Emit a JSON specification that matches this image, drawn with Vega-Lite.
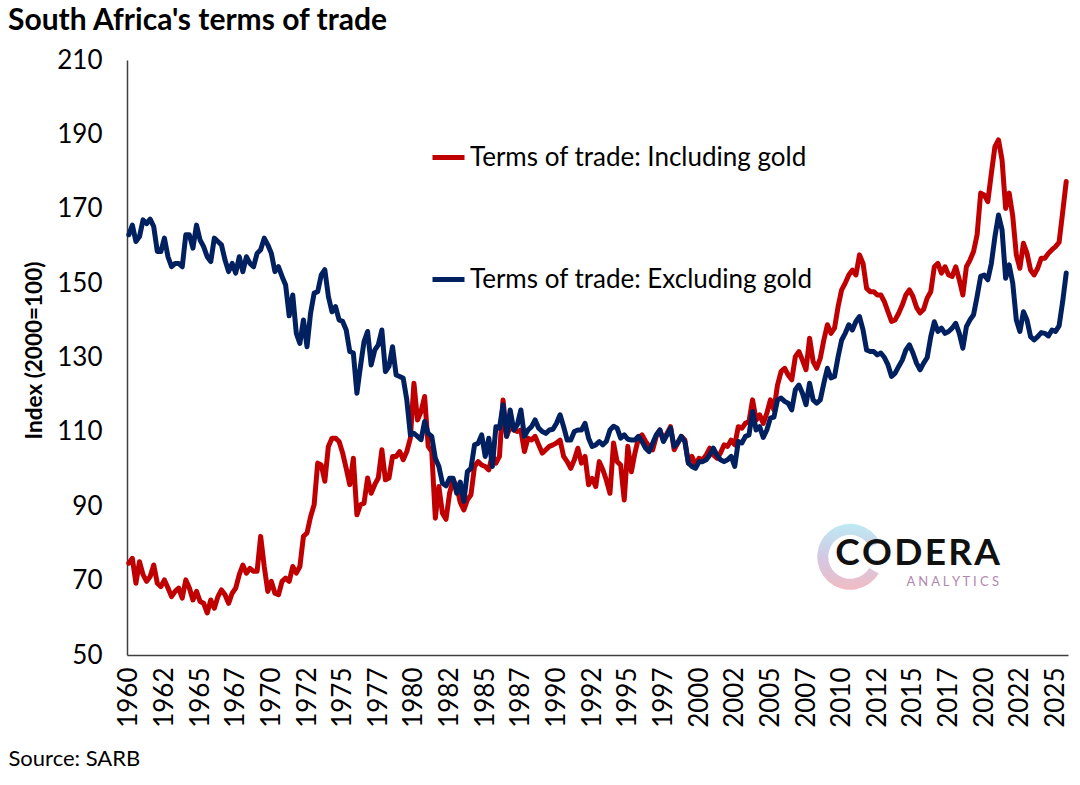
{
  "$schema": "https://vega.github.io/schema/vega-lite/v6.json",
  "width": 941,
  "height": 595,
  "autosize": {"type": "none"},
  "padding": {"left": 127, "top": 60, "right": 12, "bottom": 130},
  "background": "white",
  "config": {
    "view": {"stroke": null},
    "font": "Lato",
    "axis": {"grid": false, "labelColor": "#000000", "titleColor": "#000000", "labelFont": "Lato", "titleFont": "Lato"},
    "axisX": {"labelOverlap": false}
  },
  "title": {
    "text": "South Africa's terms of trade",
    "anchor": "start",
    "frame": "group",
    "dx": -119,
    "offset": 11,
    "font": "Lato",
    "fontSize": 30,
    "fontWeight": "bold",
    "color": "#000000"
  },
  "resolve": {"axis": {"x": "independent", "y": "independent"}},
  "layer": [
    {
      "data": {
        "values": [
          {"year": 1960, "incl": 74.7, "excl": 163.0},
          {"year": 1960.25, "incl": 76.0, "excl": 165.6},
          {"year": 1960.5, "incl": 69.3, "excl": 161.2},
          {"year": 1960.75, "incl": 75.1, "excl": 162.5},
          {"year": 1961, "incl": 71.6, "excl": 167.0},
          {"year": 1961.25, "incl": 69.8, "excl": 166.0},
          {"year": 1961.5, "incl": 71.1, "excl": 167.2},
          {"year": 1961.75, "incl": 74.2, "excl": 165.2},
          {"year": 1962, "incl": 69.3, "excl": 158.5},
          {"year": 1962.25, "incl": 68.4, "excl": 158.5},
          {"year": 1962.5, "incl": 70.2, "excl": 162.1},
          {"year": 1962.75, "incl": 68.0, "excl": 157.1},
          {"year": 1963, "incl": 65.7, "excl": 154.4},
          {"year": 1963.25, "incl": 67.1, "excl": 155.3},
          {"year": 1963.5, "incl": 68.0, "excl": 155.3},
          {"year": 1963.75, "incl": 65.3, "excl": 154.4},
          {"year": 1964, "incl": 70.2, "excl": 163.0},
          {"year": 1964.25, "incl": 68.0, "excl": 163.0},
          {"year": 1964.5, "incl": 64.8, "excl": 159.4},
          {"year": 1964.75, "incl": 67.1, "excl": 165.6},
          {"year": 1965, "incl": 64.4, "excl": 161.6},
          {"year": 1965.25, "incl": 63.9, "excl": 159.8},
          {"year": 1965.5, "incl": 61.3, "excl": 157.1},
          {"year": 1965.75, "incl": 64.8, "excl": 155.8},
          {"year": 1966, "incl": 62.6, "excl": 162.1},
          {"year": 1966.25, "incl": 65.7, "excl": 161.2},
          {"year": 1966.5, "incl": 67.5, "excl": 160.3},
          {"year": 1966.75, "incl": 66.2, "excl": 156.2},
          {"year": 1967, "incl": 63.9, "excl": 153.1},
          {"year": 1967.25, "incl": 66.6, "excl": 155.3},
          {"year": 1967.5, "incl": 68.0, "excl": 152.7},
          {"year": 1967.75, "incl": 71.6, "excl": 157.1},
          {"year": 1968, "incl": 74.2, "excl": 153.1},
          {"year": 1968.25, "incl": 72.0, "excl": 157.1},
          {"year": 1968.5, "incl": 73.3, "excl": 155.3},
          {"year": 1968.75, "incl": 72.5, "excl": 154.4},
          {"year": 1969, "incl": 72.5, "excl": 158.0},
          {"year": 1969.25, "incl": 81.9, "excl": 159.0},
          {"year": 1969.5, "incl": 73.8, "excl": 162.1},
          {"year": 1969.75, "incl": 67.1, "excl": 160.3},
          {"year": 1970, "incl": 69.8, "excl": 158.0},
          {"year": 1970.25, "incl": 66.6, "excl": 153.1},
          {"year": 1970.5, "incl": 66.2, "excl": 154.4},
          {"year": 1970.75, "incl": 69.8, "excl": 151.8},
          {"year": 1971, "incl": 70.7, "excl": 149.5},
          {"year": 1971.25, "incl": 69.8, "excl": 141.2},
          {"year": 1971.5, "incl": 73.8, "excl": 146.8},
          {"year": 1971.75, "incl": 72.0, "excl": 136.5},
          {"year": 1972, "incl": 73.8, "excl": 133.8},
          {"year": 1972.25, "incl": 81.9, "excl": 140.1},
          {"year": 1972.5, "incl": 82.8, "excl": 132.9},
          {"year": 1972.75, "incl": 87.2, "excl": 141.9},
          {"year": 1973, "incl": 90.4, "excl": 147.3},
          {"year": 1973.25, "incl": 101.6, "excl": 147.7},
          {"year": 1973.5, "incl": 101.1, "excl": 152.2},
          {"year": 1973.75, "incl": 96.7, "excl": 153.6},
          {"year": 1974, "incl": 106.1, "excl": 146.4},
          {"year": 1974.25, "incl": 108.3, "excl": 142.3},
          {"year": 1974.5, "incl": 108.3, "excl": 143.7},
          {"year": 1974.75, "incl": 107.4, "excl": 140.1},
          {"year": 1975, "incl": 104.3, "excl": 139.7},
          {"year": 1975.25, "incl": 100.2, "excl": 137.4},
          {"year": 1975.5, "incl": 95.8, "excl": 131.6},
          {"year": 1975.75, "incl": 102.9, "excl": 131.2},
          {"year": 1976, "incl": 87.7, "excl": 120.4},
          {"year": 1976.25, "incl": 90.4, "excl": 127.6},
          {"year": 1976.5, "incl": 90.8, "excl": 134.3},
          {"year": 1976.75, "incl": 97.6, "excl": 137.0},
          {"year": 1977, "incl": 93.5, "excl": 128.0},
          {"year": 1977.25, "incl": 95.8, "excl": 132.0},
          {"year": 1977.5, "incl": 97.6, "excl": 133.4},
          {"year": 1977.75, "incl": 105.2, "excl": 137.4},
          {"year": 1978, "incl": 97.1, "excl": 126.2},
          {"year": 1978.25, "incl": 97.6, "excl": 127.6},
          {"year": 1978.5, "incl": 103.4, "excl": 132.9},
          {"year": 1978.75, "incl": 103.4, "excl": 125.3},
          {"year": 1979, "incl": 104.7, "excl": 124.9},
          {"year": 1979.25, "incl": 102.5, "excl": 124.4},
          {"year": 1979.5, "incl": 104.7, "excl": 118.6},
          {"year": 1979.75, "incl": 108.3, "excl": 109.2},
          {"year": 1980, "incl": 123.1, "excl": 109.6},
          {"year": 1980.25, "incl": 113.2, "excl": 108.8},
          {"year": 1980.5, "incl": 115.5, "excl": 107.9},
          {"year": 1980.75, "incl": 119.5, "excl": 112.8},
          {"year": 1981, "incl": 106.1, "excl": 109.6},
          {"year": 1981.25, "incl": 104.7, "excl": 108.8},
          {"year": 1981.5, "incl": 86.8, "excl": 102.9},
          {"year": 1981.75, "incl": 95.3, "excl": 100.7},
          {"year": 1982, "incl": 88.1, "excl": 96.2},
          {"year": 1982.25, "incl": 86.5, "excl": 95.5},
          {"year": 1982.5, "incl": 93.5, "excl": 97.5},
          {"year": 1982.75, "incl": 97.1, "excl": 97.5},
          {"year": 1983, "incl": 95.3, "excl": 93.5},
          {"year": 1983.25, "incl": 91.0, "excl": 96.5},
          {"year": 1983.5, "incl": 89.0, "excl": 91.3},
          {"year": 1983.75, "incl": 91.7, "excl": 99.3},
          {"year": 1984, "incl": 93.1, "excl": 100.2},
          {"year": 1984.25, "incl": 100.7, "excl": 106.5},
          {"year": 1984.5, "incl": 102.0, "excl": 106.9},
          {"year": 1984.75, "incl": 101.1, "excl": 109.2},
          {"year": 1985, "incl": 100.7, "excl": 103.4},
          {"year": 1985.25, "incl": 99.8, "excl": 108.3},
          {"year": 1985.5, "incl": 103.8, "excl": 100.7},
          {"year": 1985.75, "incl": 101.6, "excl": 111.4},
          {"year": 1986, "incl": 103.4, "excl": 111.0},
          {"year": 1986.25, "incl": 118.6, "excl": 117.3},
          {"year": 1986.5, "incl": 108.8, "excl": 108.8},
          {"year": 1986.75, "incl": 111.4, "excl": 115.9},
          {"year": 1987, "incl": 110.5, "excl": 110.5},
          {"year": 1987.25, "incl": 110.1, "excl": 111.9},
          {"year": 1987.5, "incl": 110.5, "excl": 115.9},
          {"year": 1987.75, "incl": 104.7, "excl": 108.8},
          {"year": 1988, "incl": 108.3, "excl": 110.5},
          {"year": 1988.25, "incl": 107.8, "excl": 111.4},
          {"year": 1988.5, "incl": 108.8, "excl": 113.2},
          {"year": 1988.75, "incl": 106.5, "excl": 111.0},
          {"year": 1989, "incl": 104.3, "excl": 110.1},
          {"year": 1989.25, "incl": 105.2, "excl": 109.6},
          {"year": 1989.5, "incl": 106.1, "excl": 110.5},
          {"year": 1989.75, "incl": 106.5, "excl": 110.7},
          {"year": 1990, "incl": 107.0, "excl": 112.3},
          {"year": 1990.25, "incl": 107.8, "excl": 114.6},
          {"year": 1990.5, "incl": 103.4, "excl": 111.4},
          {"year": 1990.75, "incl": 102.0, "excl": 107.8},
          {"year": 1991, "incl": 100.2, "excl": 107.8},
          {"year": 1991.25, "incl": 102.5, "excl": 110.1},
          {"year": 1991.5, "incl": 105.6, "excl": 110.5},
          {"year": 1991.75, "incl": 101.6, "excl": 110.5},
          {"year": 1992, "incl": 103.4, "excl": 112.3},
          {"year": 1992.25, "incl": 95.8, "excl": 108.3},
          {"year": 1992.5, "incl": 97.5, "excl": 106.1},
          {"year": 1992.75, "incl": 95.3, "excl": 106.5},
          {"year": 1993, "incl": 102.0, "excl": 107.4},
          {"year": 1993.25, "incl": 99.8, "excl": 106.5},
          {"year": 1993.5, "incl": 97.0, "excl": 107.5},
          {"year": 1993.75, "incl": 93.5, "excl": 110.5},
          {"year": 1994, "incl": 107.0, "excl": 111.5},
          {"year": 1994.25, "incl": 102.0, "excl": 111.0},
          {"year": 1994.5, "incl": 101.1, "excl": 108.3},
          {"year": 1994.75, "incl": 91.7, "excl": 109.2},
          {"year": 1995, "incl": 106.1, "excl": 108.0},
          {"year": 1995.25, "incl": 99.3, "excl": 107.8},
          {"year": 1995.5, "incl": 104.3, "excl": 107.8},
          {"year": 1995.75, "incl": 108.3, "excl": 108.8},
          {"year": 1996, "incl": 109.2, "excl": 107.4},
          {"year": 1996.25, "incl": 107.4, "excl": 105.6},
          {"year": 1996.5, "incl": 106.1, "excl": 104.7},
          {"year": 1996.75, "incl": 105.2, "excl": 107.0},
          {"year": 1997, "incl": 108.8, "excl": 109.2},
          {"year": 1997.25, "incl": 110.5, "excl": 110.5},
          {"year": 1997.5, "incl": 107.8, "excl": 107.4},
          {"year": 1997.75, "incl": 109.6, "excl": 109.2},
          {"year": 1998, "incl": 111.4, "excl": 111.0},
          {"year": 1998.25, "incl": 105.2, "excl": 106.1},
          {"year": 1998.5, "incl": 107.0, "excl": 107.0},
          {"year": 1998.75, "incl": 108.8, "excl": 108.8},
          {"year": 1999, "incl": 107.8, "excl": 107.4},
          {"year": 1999.25, "incl": 101.6, "excl": 101.6},
          {"year": 1999.5, "incl": 103.4, "excl": 100.7},
          {"year": 1999.75, "incl": 101.1, "excl": 100.2},
          {"year": 2000, "incl": 102.9, "excl": 102.0},
          {"year": 2000.25, "incl": 102.5, "excl": 102.0},
          {"year": 2000.5, "incl": 103.8, "excl": 102.5},
          {"year": 2000.75, "incl": 105.6, "excl": 103.8},
          {"year": 2001, "incl": 103.8, "excl": 105.6},
          {"year": 2001.25, "incl": 102.9, "excl": 103.8},
          {"year": 2001.5, "incl": 104.3, "excl": 102.5},
          {"year": 2001.75, "incl": 106.5, "excl": 102.0},
          {"year": 2002, "incl": 106.1, "excl": 102.5},
          {"year": 2002.25, "incl": 107.8, "excl": 103.4},
          {"year": 2002.5, "incl": 106.5, "excl": 100.7},
          {"year": 2002.75, "incl": 111.4, "excl": 107.4},
          {"year": 2003, "incl": 111.0, "excl": 107.0},
          {"year": 2003.25, "incl": 112.3, "excl": 108.8},
          {"year": 2003.5, "incl": 112.8, "excl": 109.2},
          {"year": 2003.75, "incl": 118.6, "excl": 115.5},
          {"year": 2004, "incl": 113.2, "excl": 110.5},
          {"year": 2004.25, "incl": 114.6, "excl": 111.4},
          {"year": 2004.5, "incl": 112.3, "excl": 108.5},
          {"year": 2004.75, "incl": 115.0, "excl": 110.5},
          {"year": 2005, "incl": 118.6, "excl": 113.7},
          {"year": 2005.25, "incl": 115.9, "excl": 114.0},
          {"year": 2005.5, "incl": 122.6, "excl": 118.6},
          {"year": 2005.75, "incl": 126.2, "excl": 119.1},
          {"year": 2006, "incl": 127.1, "excl": 118.2},
          {"year": 2006.25, "incl": 125.3, "excl": 117.7},
          {"year": 2006.5, "incl": 124.0, "excl": 115.9},
          {"year": 2006.75, "incl": 130.2, "excl": 121.3},
          {"year": 2007, "incl": 131.6, "excl": 122.6},
          {"year": 2007.25, "incl": 129.3, "excl": 120.4},
          {"year": 2007.5, "incl": 126.7, "excl": 117.3},
          {"year": 2007.75, "incl": 135.2, "excl": 123.1},
          {"year": 2008, "incl": 128.9, "excl": 118.6},
          {"year": 2008.25, "incl": 127.1, "excl": 117.7},
          {"year": 2008.5, "incl": 129.8, "excl": 118.6},
          {"year": 2008.75, "incl": 134.7, "excl": 123.1},
          {"year": 2009, "incl": 138.8, "excl": 127.1},
          {"year": 2009.25, "incl": 136.5, "excl": 124.5},
          {"year": 2009.5, "incl": 137.9, "excl": 124.9},
          {"year": 2009.75, "incl": 143.7, "excl": 130.2},
          {"year": 2010, "incl": 148.2, "excl": 134.7},
          {"year": 2010.25, "incl": 150.0, "excl": 136.5},
          {"year": 2010.5, "incl": 152.2, "excl": 138.8},
          {"year": 2010.75, "incl": 153.5, "excl": 137.4},
          {"year": 2011, "incl": 152.2, "excl": 139.7},
          {"year": 2011.25, "incl": 157.6, "excl": 141.0},
          {"year": 2011.5, "incl": 155.3, "excl": 137.4},
          {"year": 2011.75, "incl": 148.6, "excl": 132.0},
          {"year": 2012, "incl": 147.7, "excl": 131.6},
          {"year": 2012.25, "incl": 147.7, "excl": 131.6},
          {"year": 2012.5, "incl": 146.8, "excl": 130.7},
          {"year": 2012.75, "incl": 146.8, "excl": 131.2},
          {"year": 2013, "incl": 145.0, "excl": 130.0},
          {"year": 2013.25, "incl": 142.3, "excl": 128.0},
          {"year": 2013.5, "incl": 139.7, "excl": 124.9},
          {"year": 2013.75, "incl": 140.1, "excl": 125.8},
          {"year": 2014, "incl": 141.9, "excl": 127.6},
          {"year": 2014.25, "incl": 144.1, "excl": 129.3},
          {"year": 2014.5, "incl": 146.8, "excl": 132.0},
          {"year": 2014.75, "incl": 148.2, "excl": 133.4},
          {"year": 2015, "incl": 146.4, "excl": 131.2},
          {"year": 2015.25, "incl": 143.5, "excl": 128.5},
          {"year": 2015.5, "incl": 142.0, "excl": 126.7},
          {"year": 2015.75, "incl": 143.0, "excl": 128.5},
          {"year": 2016, "incl": 146.0, "excl": 130.0},
          {"year": 2016.25, "incl": 147.7, "excl": 135.6},
          {"year": 2016.5, "incl": 154.4, "excl": 139.6},
          {"year": 2016.75, "incl": 155.3, "excl": 137.0},
          {"year": 2017, "incl": 152.7, "excl": 137.9},
          {"year": 2017.25, "incl": 154.4, "excl": 136.5},
          {"year": 2017.5, "incl": 152.2, "excl": 137.0},
          {"year": 2017.75, "incl": 151.8, "excl": 137.9},
          {"year": 2018, "incl": 154.4, "excl": 139.2},
          {"year": 2018.25, "incl": 150.9, "excl": 136.5},
          {"year": 2018.5, "incl": 146.8, "excl": 132.5},
          {"year": 2018.75, "incl": 154.4, "excl": 138.3},
          {"year": 2019, "incl": 156.2, "excl": 140.1},
          {"year": 2019.25, "incl": 158.5, "excl": 141.5},
          {"year": 2019.5, "incl": 163.0, "excl": 146.4},
          {"year": 2019.75, "incl": 174.2, "excl": 151.8},
          {"year": 2020, "incl": 173.7, "excl": 152.2},
          {"year": 2020.25, "incl": 171.9, "excl": 150.9},
          {"year": 2020.5, "incl": 179.5, "excl": 155.3},
          {"year": 2020.75, "incl": 186.7, "excl": 162.5},
          {"year": 2021, "incl": 188.5, "excl": 168.3},
          {"year": 2021.25, "incl": 183.1, "excl": 164.3},
          {"year": 2021.5, "incl": 170.1, "excl": 151.3},
          {"year": 2021.75, "incl": 174.2, "excl": 154.9},
          {"year": 2022, "incl": 168.0, "excl": 150.0},
          {"year": 2022.25, "incl": 157.6, "excl": 140.1},
          {"year": 2022.5, "incl": 154.0, "excl": 137.0},
          {"year": 2022.75, "incl": 160.7, "excl": 142.3},
          {"year": 2023, "incl": 158.0, "excl": 140.1},
          {"year": 2023.25, "incl": 153.5, "excl": 135.6},
          {"year": 2023.5, "incl": 152.2, "excl": 134.7},
          {"year": 2023.75, "incl": 154.0, "excl": 135.6},
          {"year": 2024, "incl": 156.7, "excl": 136.7},
          {"year": 2024.25, "incl": 156.7, "excl": 136.5},
          {"year": 2024.5, "incl": 158.0, "excl": 135.8},
          {"year": 2024.75, "incl": 159.0, "excl": 137.4},
          {"year": 2025, "incl": 159.8, "excl": 137.0},
          {"year": 2025.25, "incl": 161.0, "excl": 138.5},
          {"year": 2025.5, "incl": 169.0, "excl": 145.0},
          {"year": 2025.75, "incl": 177.3, "excl": 152.7}
        ]
      },
      "transform": [{"fold": ["incl", "excl"], "as": ["series", "value"]}],
      "mark": {"type": "line", "strokeWidth": 5, "strokeJoin": "round", "strokeCap": "round"},
      "encoding": {
        "x": {
          "field": "year",
          "type": "quantitative",
          "scale": {"domain": [1959.875, 2025.875], "nice": false, "zero": false},
          "axis": {
            "values": [1960, 1962.5, 1965, 1967.5, 1970, 1972.5, 1975, 1977.5, 1980, 1982.5, 1985, 1987.5, 1990, 1992.5, 1995, 1997.5, 2000, 2002.5, 2005, 2007.5, 2010, 2012.5, 2015, 2017.5, 2020, 2022.5, 2025],
            "labelExpr": "floor(datum.value)",
            "labelAngle": -90,
            "labelAlign": "right",
            "labelBaseline": "middle",
            "labelFontSize": 26,
            "labelPadding": 12,
            "labelOverlap": false,
            "labelFlush": false,
            "labelBound": false,
            "ticks": false,
            "tickSize": 0,
            "domainColor": "#404040",
            "domainWidth": 1.5,
            "title": "Source: SARB",
            "titleFontSize": 22,
            "titleFontWeight": "normal",
            "titleAnchor": "start",
            "titleAlign": "left",
            "titleBaseline": "middle",
            "titleX": -119,
            "titleY": 103
          }
        },
        "y": {
          "field": "value",
          "type": "quantitative",
          "scale": {"domain": [50, 210], "nice": false, "zero": false},
          "axis": {
            "values": [50, 70, 90, 110, 130, 150, 170, 190, 210],
            "labelFontSize": 26,
            "labelPadding": 25,
            "ticks": false,
            "tickSize": 0,
            "domainColor": "#404040",
            "domainWidth": 1.5,
            "title": "Index (2000=100)",
            "titleFontSize": 22.5,
            "titleFontWeight": "bold",
            "titlePadding": 10,
            "titleY": 290
          }
        },
        "color": {
          "field": "series",
          "type": "nominal",
          "scale": {"domain": ["incl", "excl"], "range": ["#C00000", "#002060"]},
          "legend": {
            "title": null,
            "orient": "none",
            "legendX": 303,
            "legendY": 79,
            "direction": "vertical",
            "padding": 0,
            "symbolType": "stroke",
            "symbolSize": 1024,
            "symbolStrokeWidth": 5,
            "labelFont": "Lato",
            "labelFontSize": 26,
            "labelColor": "#000000",
            "labelLimit": 600,
            "labelOffset": 3,
            "rowPadding": 90,
            "labelExpr": "datum.label == 'incl' ? 'Terms of trade: Including gold' : 'Terms of trade: Excluding gold'"
          }
        }
      }
    },
    {
      "data": {"values": [{"part": "emblem"}]},
      "mark": {
        "type": "arc",
        "radius": 33,
        "radius2": 22,
        "theta": 2.1,
        "theta2": 7.4,
        "opacity": 0.45,
        "fill": {
          "gradient": "linear",
          "x1": 0, "y1": 0, "x2": 0, "y2": 1,
          "stops": [
            {"offset": 0, "color": "#6fd0e4"},
            {"offset": 0.5, "color": "#9a86c4"},
            {"offset": 1, "color": "#e0697c"}
          ]
        }
      },
      "encoding": {
        "x": {"datum": 2010.6, "type": "quantitative", "axis": null},
        "y": {"datum": 76.4, "type": "quantitative", "axis": null}
      }
    },
    {
      "data": {"values": [{"label": "C\u200aO\u200aD\u200aE\u200aR\u200aA"}]},
      "mark": {"type": "text", "font": "Lato", "fontSize": 37, "fontWeight": "bold", "color": "#111111", "align": "center", "baseline": "middle"},
      "encoding": {
        "text": {"field": "label"},
        "x": {"datum": 2015.33, "type": "quantitative", "axis": null},
        "y": {"datum": 77.2, "type": "quantitative", "axis": null}
      }
    },
    {
      "data": {"values": [{"label": "A N A L Y T I C S"}]},
      "mark": {"type": "text", "font": "Lato", "fontSize": 13, "color": "#b487ad", "align": "center", "baseline": "middle"},
      "encoding": {
        "text": {"field": "label"},
        "x": {"datum": 2017.8, "type": "quantitative", "axis": null},
        "y": {"datum": 69.6, "type": "quantitative", "axis": null}
      }
    }
  ]
}
